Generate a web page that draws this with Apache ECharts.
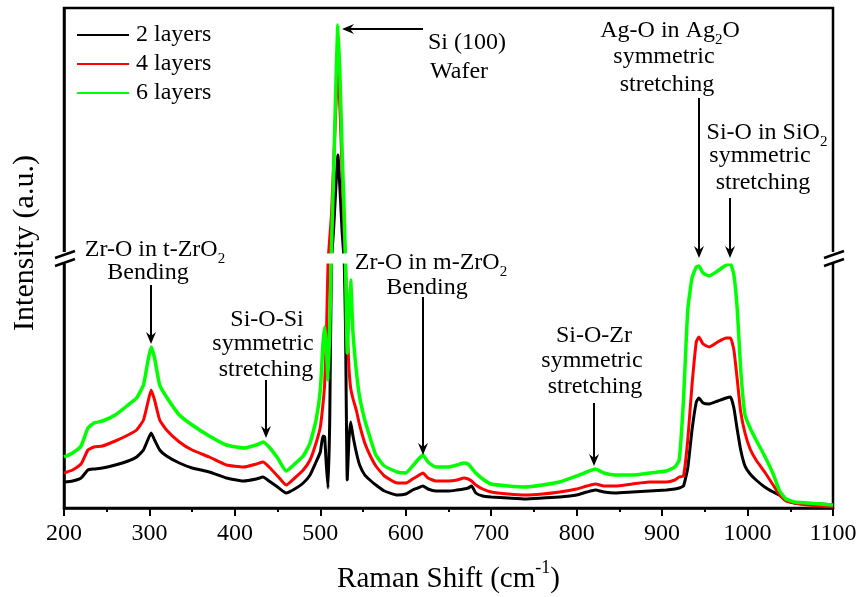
<!DOCTYPE html>
<html>
<head>
<meta charset="utf-8">
<script src="https://cdn.jsdelivr.net/npm/echarts@6/dist/echarts.min.js"></script>
<style>html,body{margin:0;padding:0;background:#fff}#c{width:857px;height:597px}</style>
</head>
<body>
<div id="c"></div>
<script>
// Raman shift (cm-1)
const wavenumbers = [200,210,220,228,235,245,260,275,285,293,298,302,306,312,320,335,350,370,390,410,425,433,440,450,460,470,480,488,495,500,503,505,507,509,511,513,515.5,518,520.6,523,525.5,528,529.5,531.5,533.5,535.5,538,542,546,552,558,565,575,590,600,608,614,620,626,635,650,660,668,673,677,682,690,700,720,740,760,780,800,812,822,832,845,865,885,905,915,920,925,930,935,940,943,948,955,965,975,980,984,988,992,997,1003,1010,1020,1030,1037,1045,1055,1070,1085,1100];
// intensities (a.u.)
const layers2 = [26,27,30,38,39,40,43,47,51,58,68,75,68,58,52,45,40,36,30,27,29,31,27,21,15,19,25,33,46,56,72,71,43,20,88,245,1268,1308,1343,1308,1266,245,178,28,68,86,73,56,43,33,28,23,17,13,14,18,20,22,19,17,17,18,19,20,22,15,12,11,10,9,10,11,13,16,18,16,15,16,17,18,19,20,22,40,78,106,110,105,104,107,110,111,100,78,58,42,34,28,21,16,13,8,5,4,4,3];
const layers4 = [35,38,44,58,61,62,67,73,78,88,105,118,108,88,78,66,58,51,43,41,44,46,41,32,23,30,38,48,65,81,103,123,168,245,1260,1283,1333,1386,1430,1388,1328,1263,245,178,140,120,110,98,83,65,53,42,32,25,25,29,32,35,30,27,27,28,30,29,27,23,19,16,14,13,14,16,19,22,24,22,22,24,26,26,28,31,32,68,123,166,171,164,161,166,170,170,158,128,96,75,59,48,36,23,14,7,5,3,2,1];
const layers6 = [51,55,62,80,85,87,93,103,110,123,146,161,150,123,111,93,83,72,63,60,63,66,61,50,37,44,52,65,88,118,163,181,163,128,178,1248,1323,1408,1473,1421,1348,1283,245,155,198,228,178,138,111,88,71,53,42,36,35,42,48,53,46,41,41,43,45,44,40,35,29,24,22,21,23,26,32,36,39,35,33,33,35,37,41,48,108,198,230,241,242,235,232,237,243,244,233,198,138,93,80,68,52,34,18,9,6,5,4,3];
const seriesNames = ['2 layers','4 layers','6 layers'];
const seriesColors = ['#000000','#ff0000','#00ff00'];
const xTickMin = 200, xTickMax = 1100, xTickStep = 100;

const FONT = '"Liberation Serif", "Times New Roman", serif';
const chart = echarts.init(document.getElementById('c'), null, {renderer:'canvas'});

function pairs(ys){ return wavenumbers.map((x,i)=>[x, ys[i]]); }

const richBase = {
  sub: {fontSize: 15, fontFamily: FONT, verticalAlign: 'bottom', lineHeight: 34, fill: '#000', color:'#000'}
};

function txt(t, x, y, align){
  return {type:'text', z: 120, style:{text:t, x:x, y:y, fill:'#000', fontSize:24, fontFamily:FONT,
    align: align||'center', verticalAlign:'middle', rich: richBase}};
}
function arrow(x1,y1,x2,y2){
  const dx=x2-x1, dy=y2-y1, len=Math.hypot(dx,dy), ux=dx/len, uy=dy/len, nx=-uy, ny=ux;
  const L=12, W=5, N=4;
  const bx=x2-L*ux, by=y2-L*uy;
  const pts=[[x2,y2],[bx+W*nx,by+W*ny],[x2-(L-N)*ux,y2-(L-N)*uy],[bx-W*nx,by-W*ny]];
  return [
    {type:'line', z:120, shape:{x1:x1,y1:y1,x2:x2-(L-N)*ux,y2:y2-(L-N)*uy}, style:{stroke:'#000', lineWidth:2}},
    {type:'polygon', z:120, shape:{points:pts}, style:{fill:'#000'}}
  ];
}
function breakMark(x){
  return [
    {type:'rect', z:130, shape:{x:x-6,y:252,width:12,height:10}, style:{fill:'#fff'}},
    {type:'line', z:131, shape:{x1:x-9,y1:258,x2:x+11,y2:251}, style:{stroke:'#000', lineWidth:2.5}},
    {type:'line', z:131, shape:{x1:x-9,y1:266,x2:x+11,y2:259}, style:{stroke:'#000', lineWidth:2.5}}
  ];
}

const graphics = [].concat(
  {type:'text', z:120, x:25, y:243, rotation:Math.PI/2,
   style:{text:'Intensity (a.u.)', x:0, y:0, fill:'#000', fontSize:30, fontFamily:FONT, align:'center', verticalAlign:'middle'}},
  txt('Si (100)', 428, 43, 'left'),
  txt('Wafer', 430, 72, 'left'),
  arrow(423, 29, 342, 29),
  txt('Ag-O in Ag{sub|2}O', 670, 31),
  txt('symmetric', 664, 57),
  txt('stretching', 667, 85),
  arrow(699, 98, 699, 258),
  txt('Si-O in SiO{sub|2}', 767, 133),
  txt('symmetric', 760, 156),
  txt('stretching', 763, 183),
  arrow(730, 198, 730, 258),
  txt('Zr-O in t-ZrO{sub|2}', 155, 250),
  txt('Bending', 148, 273),
  arrow(151, 285, 151, 344),
  txt('Si-O-Si', 267, 320),
  txt('symmetric', 263, 344),
  txt('stretching', 266, 370),
  arrow(266, 380, 266, 438),
  txt('Zr-O in m-ZrO{sub|2}', 431, 263),
  txt('Bending', 427, 288),
  arrow(423, 297, 423, 455),
  txt('Si-O-Zr', 594, 336),
  txt('symmetric', 592, 361),
  txt('stretching', 595, 387),
  arrow(594, 403, 594, 466),
  breakMark(64),
  breakMark(833)
);

const option = {
  animation: false,
  backgroundColor: '#fff',
  grid: {left: 64, right: 24, top: 8, bottom: 89, outerBoundsMode: 'none', containLabel: false,
         show: true, borderColor: '#000', borderWidth: 2.5, backgroundColor: 'transparent'},
  legend: {
    orient: 'vertical', left: 76, top: 23, padding: 0, itemWidth: 52, itemHeight: 14, itemGap: 5,
    itemStyle: {opacity: 0},
    textStyle: {fontFamily: FONT, fontSize: 24, color: '#000', padding: [0,0,0,2]},
    data: seriesNames
  },
  xAxis: {
    type: 'value', min: xTickMin, max: xTickMax, interval: xTickStep,
    name: 'Raman Shift (cm{sup|-1})', nameLocation: 'middle', nameGap: 51,
    nameTextStyle: {fontFamily: FONT, fontSize: 29, color: '#000', rich: {sup: {fontFamily: FONT, fontSize: 18, verticalAlign: 'top', lineHeight: 40, color: '#000'}}},
    axisLine: {show: true, lineStyle: {color: '#000', width: 2.5}},
    axisTick: {show: true, inside: false, length: 8, lineStyle: {color: '#000', width: 2}},
    minorTick: {show: true, splitNumber: 2, length: 4, lineStyle: {color: '#000', width: 2}},
    axisLabel: {fontFamily: FONT, fontSize: 24, color: '#000', margin: 14, formatter: v => String(v)},
    splitLine: {show: false}
  },
  yAxis: {
    type: 'value', min: 0, max: 1490,
    breaks: [{start: 245, end: 1245, gap: 10}],
    breakArea: {show: true, itemStyle: {color: '#fff', borderColor: '#fff', borderWidth: 0, opacity: 1}, zigzagAmplitude: 0, zigzagZ: 100, expandOnClick: false},
    axisLine: {show: true, lineStyle: {color: '#000', width: 2.5}},
    axisTick: {show: false}, axisLabel: {show: false}, splitLine: {show: false}
  },
  series: [layers2, layers4, layers6].map((ys, i) => ({
    name: seriesNames[i], type: 'line', data: pairs(ys), symbol: 'none', showSymbol: false,
    smooth: 0.15, z: 2 + i,
    lineStyle: {color: seriesColors[i], width: i === 2 ? 3.5 : 3},
    itemStyle: {color: seriesColors[i]}
  })),
  graphic: graphics
};
chart.setOption(option);
</script>
</body>
</html>
